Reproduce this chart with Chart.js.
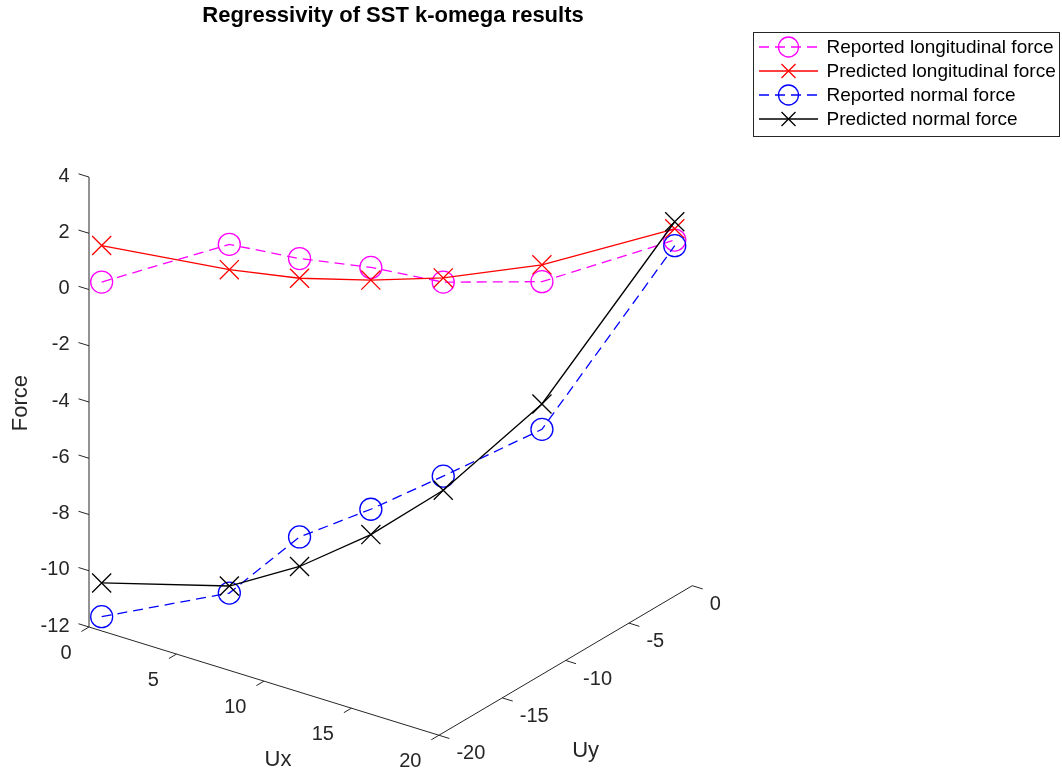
<!DOCTYPE html>
<html>
<head>
<meta charset="utf-8">
<script src="https://cdn.jsdelivr.net/npm/chart.js@4"></script>
<style>
  html, body { margin: 0; padding: 0; background: #fff; }
  #wrap { width: 1062px; height: 775px; position: relative; }
</style>
</head>
<body>
<div id="wrap"><canvas id="c"></canvas></div>
<script>
// Inflow velocity components of each run
const ux = [0.0, 6.5, 9.5, 12.2, 14.6, 17.2, 19.0];
const uy = [-19.0, -17.9, -16.5, -14.6, -12.2, -8.0, 0.0];

// Forces per run
const reportedLongitudinal = [0.0, 2.3, 2.0, 1.7, 1.0, 0.4, 0.1];
const predictedLongitudinal = [1.3, 1.4, 1.3, 1.25, 1.15, 1.0, 0.5];
const reportedNormal = [-11.9, -10.1, -7.9, -6.9, -5.9, -4.85, -0.1];
const predictedNormal = [-10.7, -9.85, -8.95, -7.8, -6.4, -3.95, 0.75];

// Axis limits and ticks
const uxRange = [0, 20];
const uyRange = [-20, 0];
const forceRange = [-12, 4];
const uxTicks = [0, 5, 10, 15, 20];
const uyTicks = [-20, -15, -10, -5, 0];
const forceTicks = [-12, -10, -8, -6, -4, -2, 0, 2, 4];

const titleText = 'Regressivity of SST k-omega results';
const seriesNames = ['Reported longitudinal force', 'Predicted longitudinal force',
                     'Reported normal force', 'Predicted normal force'];

// ---- orthographic 3-D view (azimuth / elevation) ----
const AZ = 35.9 * Math.PI / 180;
const EL = 25.3 * Math.PI / 180;
const BOX_H = 1.152;           // height of the plot box relative to its floor sides
const ORIGIN = { x: 89, y: 627 }; // canvas position of the (Ux min, Uy min, Force min) corner
const UNIT = 432;              // canvas pixels per projected unit
const W = 1062, H = 775;

function norm(v, r) { return (v - r[0]) / (r[1] - r[0]); }
function projectN(u, v, w) {
  return {
    x: u * Math.cos(AZ) + v * Math.sin(AZ),
    y: (-u * Math.sin(AZ) + v * Math.cos(AZ)) * Math.sin(EL) + w * BOX_H * Math.cos(EL)
  };
}
function project(x, y, z) {
  return projectN(norm(x, uxRange), norm(y, uyRange), norm(z, forceRange));
}
function series(forces) { return forces.map((f, i) => project(ux[i], uy[i], f)); }

const FONT = "'Liberation Sans', Arial, Helvetica, sans-serif";
const AXIS_COLOR = '#262626';

// Box axes, tick marks, tick labels and axis titles
const axes3d = {
  id: 'axes3d',
  beforeDatasetsDraw(chart) {
    const { ctx } = chart;
    const sx = chart.scales.x, sy = chart.scales.y;
    const px = p => [sx.getPixelForValue(p.x), sy.getPixelForValue(p.y)];
    const P = (u, v, w) => px(projectN(u, v, w));
    const line = (a, b) => { ctx.beginPath(); ctx.moveTo(a[0], a[1]); ctx.lineTo(b[0], b[1]); ctx.stroke(); };
    const tick = 0.03;

    ctx.save();
    ctx.strokeStyle = AXIS_COLOR;
    ctx.lineWidth = 1;
    // axis lines
    line(P(0, 0, 0), P(0, 0, 1));
    line(P(0, 0, 0), P(1, 0, 0));
    line(P(1, 0, 0), P(1, 1, 0));

    ctx.fillStyle = AXIS_COLOR;
    ctx.font = '20px ' + FONT;
    ctx.textBaseline = 'middle';

    // Force ticks
    ctx.textAlign = 'right';
    forceTicks.forEach(t => {
      const w = norm(t, forceRange);
      const a = P(0, 0, w);
      line(a, P(-tick, 0, w));
      ctx.fillText(String(t), a[0] - 19.5, a[1] - 1);
    });
    // Ux ticks
    ctx.textAlign = 'right';
    uxTicks.forEach(t => {
      const u = norm(t, uxRange);
      const a = P(u, 0, 0);
      line(a, P(u, -tick, 0));
      ctx.fillText(String(t), a[0] - 17.5, a[1] + 26.5);
    });
    // Uy ticks
    ctx.textAlign = 'left';
    uyTicks.forEach(t => {
      const v = norm(t, uyRange);
      const a = P(1, v, 0);
      line(a, P(1 + tick, v, 0));
      ctx.fillText(String(t), a[0] + 17.5, a[1] + 18.7);
    });

    // axis titles
    ctx.font = '22px ' + FONT;
    ctx.textAlign = 'center';
    const zm = P(0, 0, 0.5);
    ctx.save();
    ctx.translate(zm[0] - 68, zm[1] + 1);
    ctx.rotate(-Math.PI / 2);
    ctx.fillText('Force', 0, 0);
    ctx.restore();
    const xm = P(0.5, 0, 0);
    ctx.fillText('Ux', xm[0] + 14, xm[1] + 79);
    const ym = P(1, 0.5, 0);
    ctx.fillText('Uy', ym[0] + 20, ym[1] + 90);
    ctx.restore();
  },
  afterDraw(chart) {
    const { ctx } = chart;
    ctx.save();
    // title
    ctx.fillStyle = '#000';
    ctx.font = 'bold 22px ' + FONT;
    ctx.textAlign = 'center';
    ctx.textBaseline = 'middle';
    ctx.fillText(titleText, 393, 16);

    // legend
    const bx = 753.5, by = 32.5, bw = 306, bh = 104;
    ctx.fillStyle = '#fff';
    ctx.fillRect(bx, by, bw, bh);
    ctx.strokeStyle = AXIS_COLOR;
    ctx.lineWidth = 1;
    ctx.strokeRect(bx, by, bw, bh);
    chart.data.datasets.forEach((ds, i) => {
      const y = 47 + i * 24;
      const x0 = 759, x1 = 818, xc = 788.5;
      ctx.strokeStyle = ds.borderColor;
      ctx.lineWidth = 1.3;
      ctx.setLineDash(ds.borderDash || []);
      ctx.beginPath(); ctx.moveTo(x0, y); ctx.lineTo(x1, y); ctx.stroke();
      ctx.setLineDash([]);
      ctx.beginPath();
      if (ds.pointStyle === 'circle') {
        ctx.arc(xc, y, 10, 0, Math.PI * 2);
      } else {
        const d = 7;
        ctx.moveTo(xc - d, y - d); ctx.lineTo(xc + d, y + d);
        ctx.moveTo(xc - d, y + d); ctx.lineTo(xc + d, y - d);
      }
      ctx.stroke();
      ctx.fillStyle = '#000';
      ctx.font = '19px ' + FONT;
      ctx.textAlign = 'left';
      ctx.textBaseline = 'middle';
      ctx.fillText(seriesNames[i], 826.5, y + 1);
    });
    ctx.restore();
  }
};

function dataset(label, forces, color, dashed, marker, order) {
  return {
    label,
    data: series(forces),
    showLine: true,
    borderColor: color,
    backgroundColor: 'rgba(0,0,0,0)',
    borderWidth: 1.3,
    borderDash: dashed ? [10, 6] : [],
    pointStyle: marker,
    pointRadius: marker === 'circle' ? 11 : 13.5,
    pointBorderWidth: 1.3,
    pointBorderColor: color,
    pointBackgroundColor: 'rgba(0,0,0,0)',
    order,
    clip: false
  };
}

new Chart(document.getElementById('c'), {
  type: 'scatter',
  data: {
    datasets: [
      dataset(seriesNames[0], reportedLongitudinal, '#ff00ff', true, 'circle', 4),
      dataset(seriesNames[1], predictedLongitudinal, '#ff0000', false, 'crossRot', 3),
      dataset(seriesNames[2], reportedNormal, '#0000ff', true, 'circle', 2),
      dataset(seriesNames[3], predictedNormal, '#000000', false, 'crossRot', 1)
    ]
  },
  options: {
    responsive: true,
    maintainAspectRatio: false,
    animation: false,
    events: [],
    layout: { padding: 0, autoPadding: false },
    plugins: { legend: { display: false }, title: { display: false }, tooltip: { enabled: false } },
    scales: {
      x: { type: 'linear', display: false, min: -ORIGIN.x / UNIT, max: (W - ORIGIN.x) / UNIT },
      y: { type: 'linear', display: false, min: (ORIGIN.y - H) / UNIT, max: ORIGIN.y / UNIT }
    }
  },
  plugins: [axes3d]
});
</script>
</body>
</html>
